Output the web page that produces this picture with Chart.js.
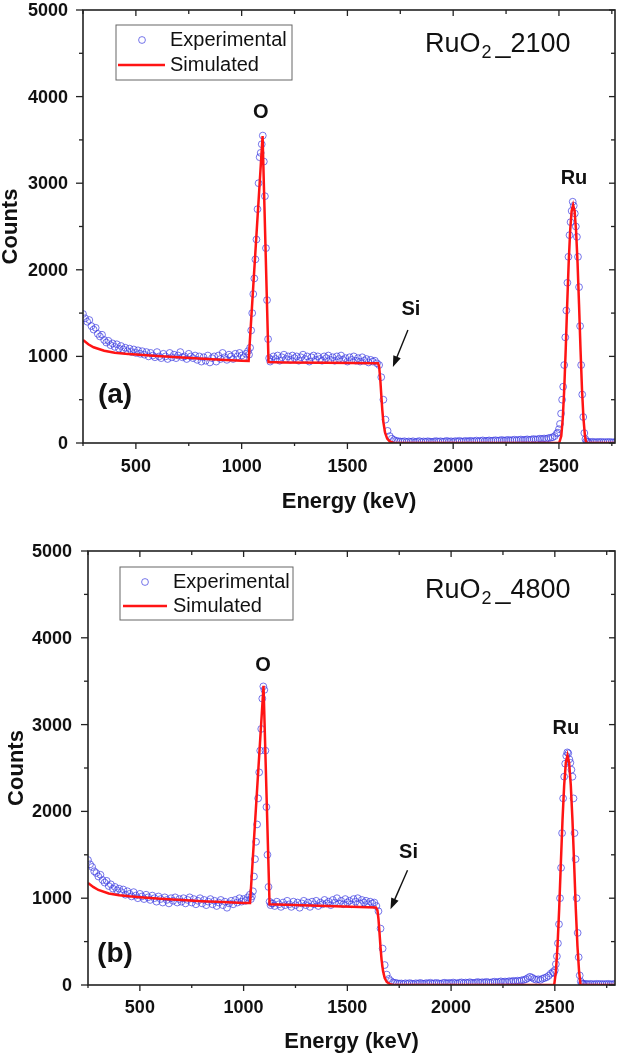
<!DOCTYPE html>
<html>
<head>
<meta charset="utf-8">
<script src="https://cdn.jsdelivr.net/npm/chart.js@4.4.1/dist/chart.umd.min.js"></script>
<style>
  body { margin: 0; background: #fff; }
  #wrapA { position: absolute; left: 0; top: 0; width: 624px; height: 530px; }
  #wrapB { position: absolute; left: 0; top: 541px; width: 624px; height: 516px; }
</style>
</head>
<body>
<div id="wrapA"><canvas id="chartA"></canvas></div>
<div id="wrapB"><canvas id="chartB"></canvas></div>
<script>
// tick labels
const energyTicks = [500, 1000, 1500, 2000, 2500];
const countTicks = [0, 1000, 2000, 3000, 4000, 5000];

// experimental channels (keV)
const expEnergy = [
  250,260,270,280,290,300,310,320,330,340,
  350,360,370,380,390,400,410,420,430,440,
  450,460,470,480,490,500,510,520,530,540,
  550,560,570,580,590,600,610,620,630,640,
  650,660,670,680,690,700,710,720,730,740,
  750,760,770,780,790,800,810,820,830,840,
  850,860,870,880,890,900,910,920,930,940,
  950,960,970,980,990,1000,1010,1020,1030,
  1035,1040,1045,1050,1055,1060,1065,1070,1075,1080,
  1085,1090,1095,1100,1105,1110,1115,1120,1125,1130,1135,
  1140,1150,1160,1170,1180,1190,1200,1210,1220,1230,
  1240,1250,1260,1270,1280,1290,1300,1310,1320,1330,
  1340,1350,1360,1370,1380,1390,1400,1410,1420,1430,
  1440,1450,1460,1470,1480,1490,1500,1510,1520,1530,
  1540,1550,1560,1570,1580,1590,1600,1610,1620,1630,
  1640,1650,1660,1670,1680,1690,1700,1710,1720,1730,
  1740,1750,1760,1770,1780,1790,1800,1810,1820,1830,
  1840,1850,1860,1870,1880,1890,1900,1910,1920,1930,
  1940,1950,1960,1970,1980,1990,2000,2010,2020,2030,
  2040,2050,2060,2070,2080,2090,2100,2110,2120,2130,
  2140,2150,2160,2170,2180,2190,2200,2210,2220,2230,
  2240,2250,2260,2270,2280,2290,2300,2310,2320,2330,
  2340,2350,2360,2370,2380,2390,2400,2410,2420,2430,
  2440,2450,2460,2470,2480,2490,
  2495,2500,2505,2510,2515,2520,2525,2530,2535,2540,
  2545,2550,2555,2560,2565,2570,2575,2580,2585,2590,
  2595,2600,2605,2610,2615,2620,2625,2630,2635,
  2640,2650,2660,2670,2680,2690,2700,2710,2720,2730,
  2740,2750,2760,2770,2780,2790
];

// RuO2_2100 experimental counts
const expCountsA = [
  1490,1440,1400,1420,1350,1310,1330,1260,1230,1250,
  1190,1160,1180,1130,1150,1110,1140,1090,1120,1080,
  1100,1060,1090,1050,1080,1040,1070,1030,1060,1020,
  1050,1000,1040,1010,990,1050,1000,980,1030,1000,
  970,1040,990,1020,980,1010,1050,990,1000,970,
  1030,1000,980,1010,960,1000,940,990,950,1010,
  930,980,1000,940,1010,970,1040,990,960,1020,
  1000,970,1030,1000,1040,1010,990,1030,1060,
  1020,1100,1300,1500,1720,1900,2120,2350,2700,3000,
  3300,3350,3450,3550,3250,2850,2250,1650,1200,980,940,
  960,1000,970,1010,950,990,1020,970,1000,960,
  1010,980,1000,950,990,1020,970,1000,940,990,
  1010,960,1000,970,950,1000,980,1010,960,990,
  950,1000,970,1010,960,980,940,990,960,1000,
  950,980,940,990,950,970,930,960,940,950,
  920,900,760,500,270,140,80,50,35,25,
  20,18,15,20,12,18,14,20,10,16,
  22,12,18,14,20,16,12,18,22,15,
  20,14,18,24,16,20,14,22,18,25,
  16,20,24,18,26,20,22,28,20,25,
  30,22,26,30,24,28,32,26,30,35,
  28,32,36,30,34,38,32,36,40,34,
  38,42,36,40,46,40,44,50,46,52,
  48,56,60,66,80,110,
  120,160,220,340,500,650,900,1220,1530,1850,
  2150,2400,2550,2680,2786,2740,2650,2500,2380,2150,
  1800,1350,900,560,300,115,45,22,14,
  12,10,14,8,12,10,13,9,11,10,
  12,8,10,11,9,10
];

// RuO2_4800 experimental counts
const expCountsB = [
  1440,1390,1360,1310,1290,1250,1270,1210,1180,1200,
  1140,1160,1110,1130,1090,1110,1070,1100,1040,1080,
  1050,1020,1070,1030,1000,1050,1020,990,1040,1010,
  980,1030,1000,960,1020,990,950,1010,980,940,
  1000,970,1010,950,990,960,1000,940,980,1010,
  950,990,930,970,1000,940,980,920,960,990,
  930,970,910,950,980,920,960,890,940,970,
  930,980,950,1000,960,990,970,1010,1040,
  990,1020,1080,1250,1450,1650,1850,2150,2450,2700,
  2950,3300,3440,3400,2700,2050,1500,1130,960,920,940,
  940,910,960,930,900,950,920,970,930,900,
  960,920,950,890,940,970,920,950,900,960,
  930,970,910,950,930,980,940,960,920,980,
  950,1000,940,970,930,990,950,970,930,990,
  960,1000,940,980,950,970,930,960,940,950,
  910,850,650,420,230,120,70,45,30,25,
  20,16,18,12,20,14,22,16,12,20,
  15,24,18,14,22,18,26,16,20,24,
  18,14,22,26,18,24,20,28,22,18,
  26,30,22,28,24,32,26,22,30,34,
  26,32,28,36,30,26,34,38,30,36,
  42,34,40,36,44,40,48,42,50,46,
  54,58,66,80,95,85,70,60,66,58,
  72,80,90,105,130,150,
  140,170,240,330,480,700,1000,1350,1750,2150,
  2400,2550,2640,2680,2670,2600,2560,2480,2400,2150,
  1750,1450,1000,600,320,110,40,20,14,
  10,14,9,12,11,8,13,10,12,9,
  11,10,13,8,10,12
];

// simulated spectra
const simEnergyA = [250,275,300,350,400,450,500,600,700,800,900,1000,1033,1099,1127,1200,1400,1645,1650,1655,
  1660,1665,1670,1678,1688,1700,1715,1725,2501,2511,2518,2525,2532,2539,2546,2553,2560,2567,2574,2581,
  2588,2595,2602,2609,2616,2623,2629,2800];
const simCountsA = [1190,1140,1105,1065,1042,1030,1022,1005,990,975,962,951,948,3545,935,930,926,920,880,750,
  560,380,240,120,50,18,3,0,0,80,280,620,1080,1600,2080,2450,2680,2748,2680,2450,
  2080,1600,1080,620,280,80,0,0];

const simEnergyB = [250,275,300,350,400,450,500,600,700,800,900,1000,1031,1096,1125,1200,1400,1638,1645,1650,
  1655,1660,1665,1672,1680,1690,1705,1720,2497,2505,2513,2521,2529,2537,2545,2553,2561,2569,2577,2585,
  2593,2601,2609,2617,2624,2800];
const simCountsB = [1176,1130,1095,1055,1035,1022,1012,995,980,966,955,946,944,3448,931,925,910,894,860,760,
  600,430,290,160,80,35,10,0,0,150,450,880,1400,1900,2300,2560,2644,2560,2300,1900,
  1400,880,450,150,0,0];

const FONT = '"Liberation Sans", Arial, sans-serif';
const INK = '#111';
const EXP_COLOR = 'rgba(60,60,225,0.7)';
const SIM_COLOR = 'rgb(255,20,20)';

function line(ctx, x1, y1, x2, y2) {
  ctx.beginPath();
  ctx.moveTo(x1, y1);
  ctx.lineTo(x2, y2);
  ctx.stroke();
}

function makeChart(id, p) {
  const decor = {
    id: 'decor',
    afterDraw(chart) {
      const ctx = chart.ctx;
      const { left, right, top, bottom } = chart.chartArea;
      const xs = chart.scales.x, ys = chart.scales.y;
      ctx.save();

      // frame + ticks
      ctx.strokeStyle = '#222';
      ctx.lineWidth = 1.6;
      ctx.strokeRect(left, top, right - left, bottom - top);
      ctx.lineWidth = 1.3;
      for (let v = 250; v <= xs.max; v += 250) {
        const px = xs.getPixelForValue(v);
        const major = v % 500 === 0;
        line(ctx, px, bottom, px, bottom + (major ? 6 : 3));
        line(ctx, px, top, px, top + (major ? 6 : 4));
      }
      for (let v = 0; v <= ys.max; v += 500) {
        const py = ys.getPixelForValue(v);
        const major = v % 1000 === 0;
        line(ctx, left, py, left - (major ? 7 : 4), py);
        line(ctx, right, py, right - (major ? 6 : 4), py);
      }

      // tick labels
      ctx.fillStyle = INK;
      ctx.textBaseline = 'middle';
      ctx.font = 'bold 18px ' + FONT;
      ctx.textAlign = 'center';
      for (const v of energyTicks) {
        ctx.fillText(String(v), xs.getPixelForValue(v), bottom + p.xLabelOffset);
      }
      ctx.textAlign = 'right';
      for (const v of countTicks) {
        ctx.fillText(String(v), left - p.yTickPad, ys.getPixelForValue(v) + 1);
      }

      // element labels
      ctx.textAlign = 'center';
      ctx.font = 'bold 20px ' + FONT;
      for (const lab of p.labels) {
        ctx.fillText(lab.text, xs.getPixelForValue(lab.x), ys.getPixelForValue(lab.y));
      }

      // Si arrow
      const ax1 = xs.getPixelForValue(p.arrow[0]), ay1 = ys.getPixelForValue(p.arrow[1]);
      const ax2 = xs.getPixelForValue(p.arrow[2]), ay2 = ys.getPixelForValue(p.arrow[3]);
      const ang = Math.atan2(ay2 - ay1, ax2 - ax1);
      ctx.strokeStyle = INK;
      ctx.lineWidth = 1.4;
      line(ctx, ax1, ay1, ax2 - 6 * Math.cos(ang), ay2 - 6 * Math.sin(ang));
      ctx.beginPath();
      ctx.moveTo(ax2, ay2);
      ctx.lineTo(ax2 - 11 * Math.cos(ang) + 4 * Math.sin(ang), ay2 - 11 * Math.sin(ang) - 4 * Math.cos(ang));
      ctx.lineTo(ax2 - 11 * Math.cos(ang) - 4 * Math.sin(ang), ay2 - 11 * Math.sin(ang) + 4 * Math.cos(ang));
      ctx.closePath();
      ctx.fill();

      // panel tag
      ctx.font = 'bold 28px ' + FONT;
      ctx.fillText(p.tag, left + p.tagPos[0], top + p.tagPos[1]);

      // sample name with subscript
      ctx.textAlign = 'left';
      ctx.textBaseline = 'alphabetic';
      let tx = left + p.namePos[0];
      const ty = top + p.namePos[1];
      ctx.font = '27px ' + FONT;
      ctx.fillText('RuO', tx, ty);
      tx += ctx.measureText('RuO').width + 1;
      ctx.font = '18px ' + FONT;
      ctx.fillText('2', tx, ty + 6);
      tx += ctx.measureText('2').width + 4;
      ctx.font = '27px ' + FONT;
      ctx.fillText(p.nameTail, tx, ty);

      // legend box
      const lb = p.legend;
      const bx = left + lb.box[0], by = top + lb.box[1];
      ctx.strokeStyle = '#666';
      ctx.lineWidth = 1;
      ctx.strokeRect(bx, by, lb.box[2], lb.box[3]);
      ctx.strokeStyle = EXP_COLOR;
      ctx.beginPath();
      ctx.arc(left + lb.marker[0], top + lb.marker[1], 3.4, 0, Math.PI * 2);
      ctx.stroke();
      ctx.strokeStyle = SIM_COLOR;
      ctx.lineWidth = 2.5;
      line(ctx, left + lb.line[0], top + lb.line[2], left + lb.line[1], top + lb.line[2]);
      ctx.fillStyle = INK;
      ctx.textBaseline = 'middle';
      ctx.font = '20px ' + FONT;
      ctx.fillText('Experimental', left + lb.textX, top + lb.marker[1]);
      ctx.fillText('Simulated', left + lb.textX, top + lb.line[2]);

      ctx.restore();
    }
  };

  return new Chart(document.getElementById(id), {
    type: 'scatter',
    data: {
      datasets: [
        {
          label: 'Simulated',
          data: p.simEnergy.map((e, i) => ({ x: e, y: p.simCounts[i] })),
          showLine: true,
          borderColor: SIM_COLOR,
          borderWidth: 2.5,
          pointRadius: 0,
          tension: 0,
          clip: 0,
          order: 0
        },
        {
          label: 'Experimental',
          data: expEnergy.map((e, i) => ({ x: e, y: p.expCounts[i] })),
          showLine: false,
          pointRadius: 3.4,
          pointBorderWidth: 1,
          pointBorderColor: EXP_COLOR,
          pointBackgroundColor: 'rgba(0,0,0,0)',
          clip: 0,
          order: 1
        }
      ]
    },
    options: {
      responsive: true,
      maintainAspectRatio: false,
      animation: false,
      layout: { padding: { top: 10, right: 9, left: 0, bottom: 0 } },
      plugins: { legend: { display: false }, tooltip: { enabled: false } },
      scales: {
        x: {
          type: 'linear',
          min: 250,
          max: p.xMax,
          grid: { display: false, drawTicks: false },
          border: { display: false },
          ticks: { display: false, stepSize: 250 },
          title: {
            display: true,
            text: 'Energy (keV)',
            color: INK,
            font: { family: FONT, size: 22, weight: 'bold', lineHeight: 1 },
            padding: { top: 0, bottom: p.xTitlePad }
          },
          afterFit: s => { s.height = p.bottomHeight; }
        },
        y: {
          min: 0,
          max: 5000,
          grid: { display: false, drawTicks: false },
          border: { display: false },
          ticks: { display: false, stepSize: 500, padding: 0 },
          title: {
            display: true,
            text: 'Counts',
            color: INK,
            font: { family: FONT, size: 22, weight: 'bold', lineHeight: 1 },
            padding: { top: p.yTitlePad, bottom: 0 }
          },
          afterFit: s => { s.width = p.leftWidth; }
        }
      }
    },
    plugins: [decor]
  });
}

makeChart('chartA', {
  expCounts: expCountsA,
  simEnergy: simEnergyA,
  simCounts: simCountsA,
  xMax: 2765,
  leftWidth: 83,
  bottomHeight: 87,
  xTitlePad: 17,
  xLabelOffset: 24,
  yTickPad: 15,
  yTitlePad: 0,
  labels: [
    { text: 'O', x: 1091, y: 3811 },
    { text: 'Ru', x: 2571, y: 3060 },
    { text: 'Si', x: 1800, y: 1536 }
  ],
  arrow: [1786, 1305, 1715, 878],
  tag: '(a)',
  tagPos: [32, 385],
  namePos: [342, 42],
  nameTail: '_2100',
  legend: { box: [33, 15, 176, 55], marker: [59, 30], line: [35, 82, 55], textX: 87 }
});

makeChart('chartB', {
  expCounts: expCountsB,
  simEnergy: simEnergyB,
  simCounts: simCountsB,
  xMax: 2790,
  leftWidth: 88,
  bottomHeight: 72,
  xTitlePad: 4,
  xLabelOffset: 23,
  yTickPad: 16,
  yTitlePad: 6,
  labels: [
    { text: 'O', x: 1094, y: 3678 },
    { text: 'Ru', x: 2553, y: 2954 },
    { text: 'Si', x: 1795, y: 1529 }
  ],
  arrow: [1790, 1322, 1708, 874],
  tag: '(b)',
  tagPos: [27, 403],
  namePos: [337, 47],
  nameTail: '_4800',
  legend: { box: [32, 16, 173, 53], marker: [57, 31], line: [35, 79, 55], textX: 85 }
});
</script>
</body>
</html>
